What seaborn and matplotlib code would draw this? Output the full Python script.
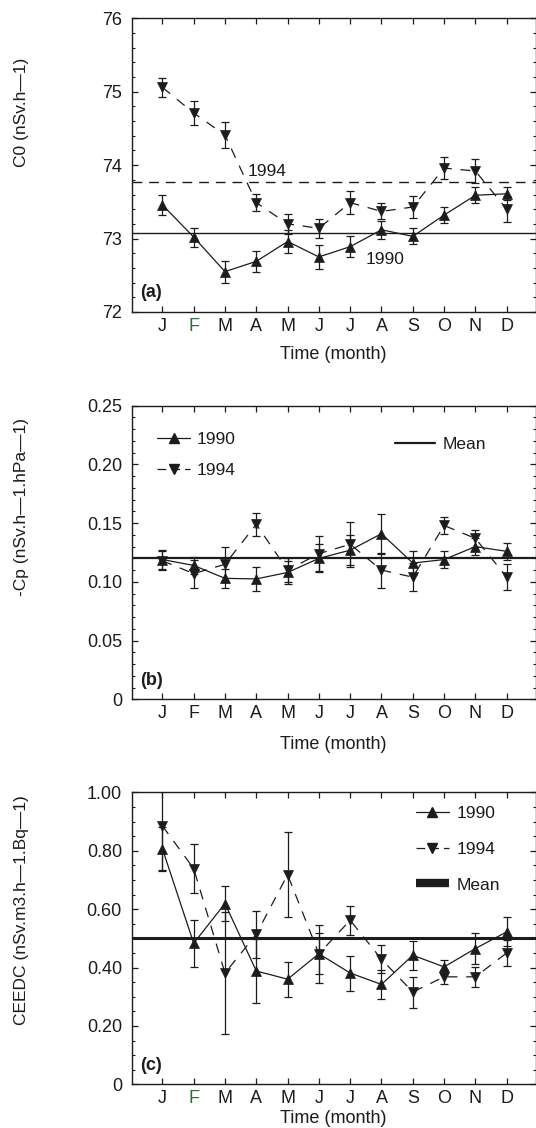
import numpy as np
import pandas as pd
import matplotlib
matplotlib.use("Agg")
import matplotlib.pyplot as plt
from matplotlib.lines import Line2D
from matplotlib.ticker import MultipleLocator, FixedLocator
import seaborn as sns

# data
months = ['J', 'F', 'M', 'A', 'M', 'J', 'J', 'A', 'S', 'O', 'N', 'D']

c0_1990 = [73.46, 73.02, 72.55, 72.69, 72.96, 72.75, 72.89, 73.12, 73.03, 73.32, 73.59, 73.61]
c0_1990_err = [0.14, 0.13, 0.15, 0.14, 0.15, 0.16, 0.14, 0.12, 0.11, 0.11, 0.11, 0.09]
c0_1994 = [75.06, 74.71, 74.41, 73.49, 73.20, 73.14, 73.49, 73.37, 73.43, 73.96, 73.92, 73.40]
c0_1994_err = [0.13, 0.16, 0.18, 0.12, 0.14, 0.13, 0.16, 0.11, 0.15, 0.15, 0.16, 0.18]
c0_mean_1990 = 73.07
c0_mean_1994 = 73.775

cp_1990 = [0.119, 0.114, 0.103, 0.1025, 0.108, 0.120, 0.127, 0.141, 0.116, 0.119, 0.130, 0.126]
cp_1990_err = [0.008, 0.007, 0.008, 0.010, 0.010, 0.012, 0.013, 0.017, 0.010, 0.007, 0.007, 0.007]
cp_1994 = [0.118, 0.107, 0.115, 0.149, 0.110, 0.124, 0.132, 0.110, 0.104, 0.148, 0.137, 0.104]
cp_1994_err = [0.008, 0.012, 0.015, 0.010, 0.010, 0.015, 0.019, 0.015, 0.012, 0.007, 0.007, 0.011]
cp_mean = 0.12

ce_1990 = [0.807, 0.483, 0.619, 0.388, 0.360, 0.447, 0.381, 0.342, 0.442, 0.402, 0.465, 0.522]
ce_1990_err = [0.075, 0.08, 0.06, 0.11, 0.06, 0.07, 0.06, 0.05, 0.05, 0.025, 0.053, 0.05]
ce_1994 = [0.885, 0.739, 0.381, 0.514, 0.718, 0.447, 0.562, 0.428, 0.316, 0.368, 0.368, 0.450]
ce_1994_err = [0.15, 0.083, 0.21, 0.08, 0.145, 0.10, 0.05, 0.048, 0.053, 0.025, 0.035, 0.045]
ce_mean = 0.50

sns.set_theme(style="ticks")
plt.rcParams['font.family'] = ['Liberation Sans', 'DejaVu Sans']
ink = '#1c1c1c'
plt.rcParams.update({
    'text.color': ink, 'axes.labelcolor': ink, 'axes.edgecolor': ink,
    'xtick.color': ink, 'ytick.color': ink, 'axes.linewidth': 1.0,
})

W, H = 536, 1128
fig = plt.figure(figsize=(W / 100, H / 100), dpi=100)


def add_axes(top, bottom, left=131.7, right=535.5):
    return fig.add_axes([left / W, 1 - bottom / H, (right - left) / W, (bottom - top) / H])


def draw_panel(ax, v90, e90, v94, e94):
    x = np.arange(len(months))
    df = pd.DataFrame({
        'month': np.concatenate([x, x]),
        'value': v90 + v94,
        'year': ['1990'] * len(x) + ['1994'] * len(x),
    })
    sns.lineplot(data=df, x='month', y='value', style='year',
                 markers={'1990': '^', '1994': 'v'},
                 dashes={'1990': '', '1994': (8, 7)},
                 color=ink, linewidth=0.9, markersize=7.5,
                 markeredgecolor=ink, markeredgewidth=0.5,
                 legend=False, sort=False, ax=ax, zorder=3)
    ax.errorbar(x, v90, yerr=e90, fmt='none', ecolor=ink, elinewidth=0.9,
                capsize=3, capthick=0.9, zorder=2)
    ax.errorbar(x, v94, yerr=e94, fmt='none', ecolor=ink, elinewidth=0.9,
                capsize=3, capthick=0.9, zorder=2)


def style_axes(ax, ylim, major, minor, ticklabels, green_f=False):
    ax.set_xlim(-0.98, 11.92)
    ax.set_ylim(*ylim)
    ax.xaxis.set_major_locator(FixedLocator(range(12)))
    ax.set_xticklabels(months)
    ax.yaxis.set_major_locator(MultipleLocator(major))
    ax.yaxis.set_minor_locator(MultipleLocator(minor))
    ax.set_yticks(np.arange(ylim[0], ylim[1] + major / 2, major))
    ax.set_yticklabels(ticklabels)
    ax.tick_params(which='both', direction='in', top=True, right=True,
                   labelsize=13)
    ax.tick_params(axis='y', pad=7)
    ax.tick_params(axis='x', pad=4)
    ax.tick_params(which='major', length=4, width=0.9)
    ax.tick_params(which='minor', length=2.5, width=0.8)
    ax.tick_params(axis='x', which='minor', top=False, bottom=False)
    ax.set_ylabel('')
    for sp in ax.spines.values():
        sp.set_visible(True)
    if green_f:
        ax.get_xticklabels()[1].set_color('#2f6e35')


# panel (a)
ax_a = add_axes(18.3, 312.0)
draw_panel(ax_a, c0_1990, c0_1990_err, c0_1994, c0_1994_err)
ax_a.axhline(c0_mean_1990, color=ink, lw=1.0, zorder=1)
ax_a.axhline(c0_mean_1994, color=ink, lw=1.0, dashes=(7, 5), zorder=1)
style_axes(ax_a, (72, 76), 1, 0.2, ['72', '73', '74', '75', '76'], green_f=True)
ax_a.text(2.73, 73.91, '1994', fontsize=12.5, va='center', ha='left')
ax_a.text(6.5, 72.71, '1990', fontsize=12.5, va='center', ha='left')
ax_a.text(0.022, 0.065, '(a)', transform=ax_a.transAxes, fontsize=13,
          fontweight='bold', va='center')
ax_a.set_xlabel('Time (month)', fontsize=13, labelpad=8)

# panel (b)
ax_b = add_axes(405.7, 699.3)
draw_panel(ax_b, cp_1990, cp_1990_err, cp_1994, cp_1994_err)
ax_b.axhline(cp_mean, color=ink, lw=1.6, zorder=1)
style_axes(ax_b, (0, 0.25), 0.05, 0.01, ['0', '0.05', '0.10', '0.15', '0.20', '0.25'])
ax_b.text(0.022, 0.065, '(b)', transform=ax_b.transAxes, fontsize=13,
          fontweight='bold', va='center')
ax_b.set_xlabel('Time (month)', fontsize=13, labelpad=10)

h90 = Line2D([], [], color=ink, lw=0.9, marker='^', markersize=6.5)
h94 = Line2D([], [], color=ink, lw=0.9, marker='v', markersize=6.5, dashes=(7, 4))
hmean_b = Line2D([], [], color=ink, lw=1.6)
leg_b = ax_b.legend([h90, h94], ['1990', '1994'], loc='upper left',
                    bbox_to_anchor=(0.063, 0.912), frameon=False, fontsize=12.5,
                    handlelength=1.9, handletextpad=0.35, labelspacing=0.95,
                    borderpad=0, borderaxespad=0)
ax_b.add_artist(leg_b)
ax_b.legend([hmean_b], ['Mean'], loc='upper left', bbox_to_anchor=(0.652, 0.894),
            frameon=False, fontsize=12.5, handlelength=2.3, handletextpad=0.45,
            borderpad=0, borderaxespad=0)

# panel (c)
ax_c = add_axes(792.3, 1084.3)
draw_panel(ax_c, ce_1990, ce_1990_err, ce_1994, ce_1994_err)
ax_c.axhline(ce_mean, color=ink, lw=2.2, zorder=1)
style_axes(ax_c, (0, 1.0), 0.2, 0.05, ['0', '0.20', '0.40', '0.60', '0.80', '1.00'],
           green_f=True)
ax_c.text(0.022, 0.065, '(c)', transform=ax_c.transAxes, fontsize=13,
          fontweight='bold', va='center')
ax_c.set_xlabel('Time (month)', fontsize=13, labelpad=2.5)

hmean_c = Line2D([], [], color=ink, lw=6, solid_capstyle='butt')
ax_c.legend([h90, h94, hmean_c], ['1990', '1994', 'Mean'], loc='upper left',
            bbox_to_anchor=(0.704, 0.955), frameon=False, fontsize=12.5,
            handlelength=1.9, handletextpad=0.45, labelspacing=1.2,
            borderpad=0, borderaxespad=0)

# y labels
fig.text(22 / W, 1 - 112 / H, 'C0 (nSv.h\u20141)', rotation=90, fontsize=12.5,
         ha='center', va='center')
fig.text(22 / W, 1 - 507 / H, '-Cp (nSv.h\u20141.hPa\u20141)', rotation=90, fontsize=12.5,
         ha='center', va='center')
fig.text(22 / W, 1 - 910 / H, 'CEEDC (nSv.m3.h\u20141.Bq\u20141)', rotation=90, fontsize=12.5,
         ha='center', va='center')

fig.savefig('out.png', dpi=100, facecolor='white')
